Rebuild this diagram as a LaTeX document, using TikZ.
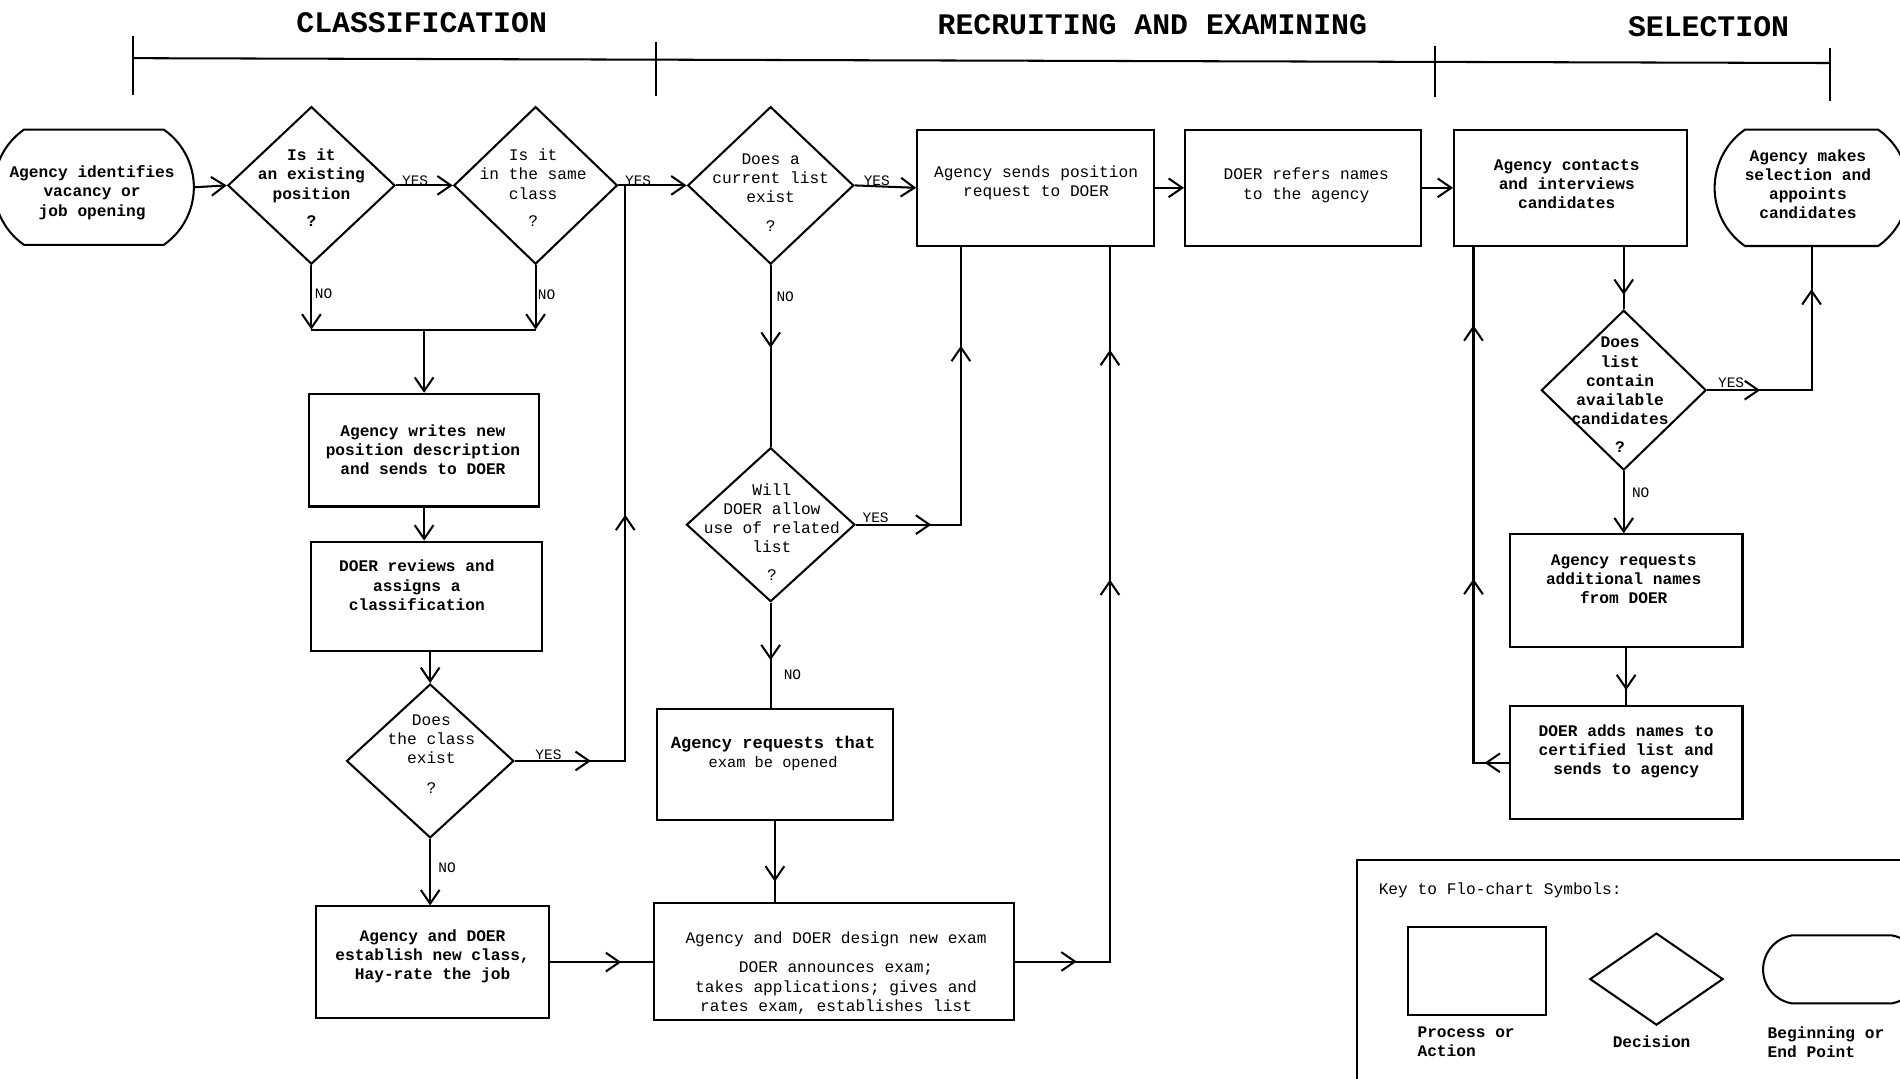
\documentclass[tikz,border=0pt]{standalone}
\usepackage{fontspec}
\setmainfont{Liberation Mono}
\usetikzlibrary{shapes.geometric,shapes.misc,arrows.meta,decorations.markings}
\begin{document}
\begin{tikzpicture}[x=0.025cm,y=-0.025cm,line width=1.2pt,
  >={Straight Barb[length=8pt,width=11pt]},
  box/.style 2 args={draw,rectangle,minimum width=#1*0.025cm,minimum height=#2*0.025cm,inner sep=0pt},
  dia/.style 2 args={draw,diamond,minimum width=#1*0.025cm,minimum height=#2*0.025cm,inner sep=0pt},
  term/.style 2 args={draw,rounded rectangle,rounded rectangle arc length=110,minimum width=#1*0.025cm,minimum height=#2*0.025cm,inner sep=0pt},
  txt/.style={font=\fontsize{9.5}{11.3}\selectfont,align=center,inner sep=0pt},
  btxt/.style={font=\fontsize{9.5}{11.3}\selectfont\bfseries,align=center,inner sep=0pt},
  lab/.style={font=\fontsize{8.5}{10}\selectfont,inner sep=0pt},
  hd/.style={font=\fontsize{17.5}{20}\selectfont\bfseries,inner sep=0pt},
  tipat/.style={postaction={decorate,decoration={markings,mark=at position #1 with {\arrow{>}}}}},
]
\useasboundingbox (0,0) rectangle (1568,890);
\fill[white] (0,0) rectangle (1568,890);
\clip (0,0) rectangle (1568,890);

% headers
\node[hd] (hclass) at (348,19) {CLASSIFICATION};
\node[hd] (hrec) at (951,20) {RECRUITING AND EXAMINING};
\node[hd] (hsel) at (1410,22) {SELECTION};
\draw (110,48) -- (1510,52);
\draw (110,30) -- (110,78);
\draw (541,35) -- (541,79);
\draw (1184,38) -- (1184,80);
\draw (1510,40) -- (1510,83);

% shapes
\node[term={165}{95}] (start) at (77.5,154.5) {};
\node[dia={138}{130}] (d1) at (257,153) {};
\node[dia={135}{130}] (d2) at (442,153) {};
\node[dia={137}{130}] (d3) at (636,153) {};
\node[box={195}{96}] (sendreq) at (854.5,155) {};
\node[box={195}{96}] (refers) at (1075.5,155) {};
\node[box={192}{96}] (contacts) at (1296,155) {};
\node[term={160}{96}] (finish) at (1495,155) {};
\node[box={190}{93}] (writes) at (350,371.5) {};
\node[box={191}{90}] (reviews) at (352,492) {};
\node[dia={138}{127}] (d4) at (355,628) {};
\node[box={192}{92}] (establish) at (357,794) {};
\node[dia={139}{127}] (d5) at (636,433) {};
\node[box={195}{92}] (reqexam) at (639.5,631) {};
\node[box={297}{97}] (design) at (688.5,793.5) {};
\node[dia={136}{132}] (d6) at (1340,322) {};
\node[box={192}{93}] (addl) at (1342,487.5) {};
\node[box={192}{93}] (adds) at (1342,629.5) {};

% key
\node[box={480}{190}] (keybox) at (1360,805) {};
\node[box={114}{73}] (krect) at (1219,801.5) {};
\node[dia={110}{76}] (kdia) at (1367,808) {};
\node[term={130}{56},rounded rectangle arc length=160] (kterm) at (1520,800) {};

% texts
\node[btxt] (tstart) at (76,159) {Agency identifies\\vacancy or\\job opening};
\node[btxt] (td1) at (257,155) {Is it\\an existing\\position\\[5pt]?};
\node[txt] (td2) at (440,155) {Is it\\in the same\\class\\[5pt]?};
\node[txt] (td3) at (636,159) {Does a\\current list\\exist\\[6pt]?};
\node[txt] (tsend) at (855,151) {Agency sends position\\request to DOER};
\node[txt] (tref) at (1078,153) {DOER refers names\\to the agency};
\node[btxt] (tcont) at (1293,152) {Agency contacts\\and interviews\\candidates};
\node[btxt] (tfin) at (1492,152) {Agency makes\\selection and\\appoints\\candidates};
\node[btxt] (twrite) at (349,371) {Agency writes new\\position description\\and sends to DOER};
\node[btxt] (trev) at (344,483) {DOER reviews and\\assigns a\\classification};
\node[txt] (td4) at (356,622) {Does\\the class\\exist\\[6pt]?};
\node[btxt] (test) at (357,789) {Agency and DOER\\establish new class,\\Hay-rate the job};
\node[txt] (td5) at (637,439) {Will\\DOER allow\\use of related\\list\\[5pt]?};
\node[txt] (treq) at (638,622) {{\fontsize{10}{12}\selectfont\bfseries Agency requests that}\\{\fontsize{9}{11}\selectfont exam be opened}};
\node[txt] (tdes) at (690,803) {Agency and DOER design new exam\\[6pt]DOER announces exam;\\takes applications; gives and\\rates exam, establishes list};
\node[btxt] (td6) at (1337,326) {Does\\list\\contain\\available\\candidates\\[5pt]?};
\node[btxt] (taddl) at (1340,478) {Agency requests\\additional names\\from DOER};
\node[btxt] (tadds) at (1342,620) {DOER adds names to\\certified list and\\sends to agency};
\node[txt,anchor=west] (tkey) at (1137,735) {Key to Flo-chart Symbols:};
\node[btxt,anchor=west,align=left] (tproc) at (1169,860) {Process or\\Action};
\node[btxt] (tdec) at (1363,860) {Decision};
\node[btxt,anchor=west,align=left] (tbeg) at (1458,860) {Beginning or\\End Point};

% labels
\node[lab,anchor=south west] (y1) at (331,154) {YES};
\node[lab,anchor=south west] (y2) at (515,154) {YES};
\node[lab,anchor=south west] (y3) at (712,154) {YES};
\node[lab,anchor=south west] (y4) at (441,628) {YES};
\node[lab,anchor=south west] (y5) at (711,432) {YES};
\node[lab,anchor=south west] (y6) at (1417,321) {YES};
\node[lab,anchor=west] (n1l) at (259,242) {NO};
\node[lab,anchor=west] (n2l) at (443,243) {NO};
\node[lab,anchor=west] (n3l) at (640,245) {NO};
\node[lab,anchor=west] (n4l) at (361,716) {NO};
\node[lab,anchor=west] (n5l) at (646,557) {NO};
\node[lab,anchor=west] (n6l) at (1346,407) {NO};

% coordinates
\coordinate (n1) at (257,272);
\coordinate (n2) at (442,272);
\coordinate (x516) at (516,0);
\coordinate (x793) at (793,0);
\coordinate (x916) at (916,0);
\coordinate (x1216) at (1216,0);

% connectors
\draw[->] (start.east) -- (d1.west);
\draw[->] (d1.east) -- (d2.west);
\draw[->] (d2.east) -- (d3.west);
\draw[->] (d3.east) -- (sendreq.west);
\draw[->] (sendreq.east) -- (refers.west);
\draw[->] (refers.east) -- (contacts.west);
\draw[->] (d1.south) -- (n1);
\draw[->] (d2.south) -- (n2);
\draw (n1) -- (n2);
\draw[->] (writes.north |- n1) -- (writes.north);
\draw[->] (writes.south) -- (writes.south |- reviews.north);
\draw[->] (d4.north |- reviews.south) -- (d4.north);
\draw[tipat=0.111,tipat=0.52] (d4.east) -| (x516 |- d2.east);
\draw[->] (d4.south) -- (d4.south |- establish.north);
\draw[tipat=0.69] (establish.east) -- (establish.east -| design.west);
\draw[tipat=0.455] (d3.south) -- (d5.north);
\draw[tipat=0.197,tipat=0.742] (d5.east) -| (x793 |- sendreq.south);
\draw[tipat=0.548] (d5.south) -- (d5.south |- reqexam.north);
\draw[tipat=0.75] (reqexam.south) -- (reqexam.south |- design.north);
\draw[tipat=0.076,tipat=0.589,tipat=0.873] (design.east) -| (x916 |- sendreq.south);
\draw[tipat=0.77] (d6.north |- contacts.south) -- (d6.north);
\draw[tipat=0.214,tipat=0.83] (d6.east) -| (finish.south);
\draw[->] (d6.south) -- (d6.south |- addl.north);
\draw[tipat=0.735] (addl.south) -- (addl.south |- adds.north);
\draw[tipat=0.044,tipat=0.398,tipat=0.858] (adds.west) -| (x1216 |- contacts.south);
\end{tikzpicture}
\end{document}
